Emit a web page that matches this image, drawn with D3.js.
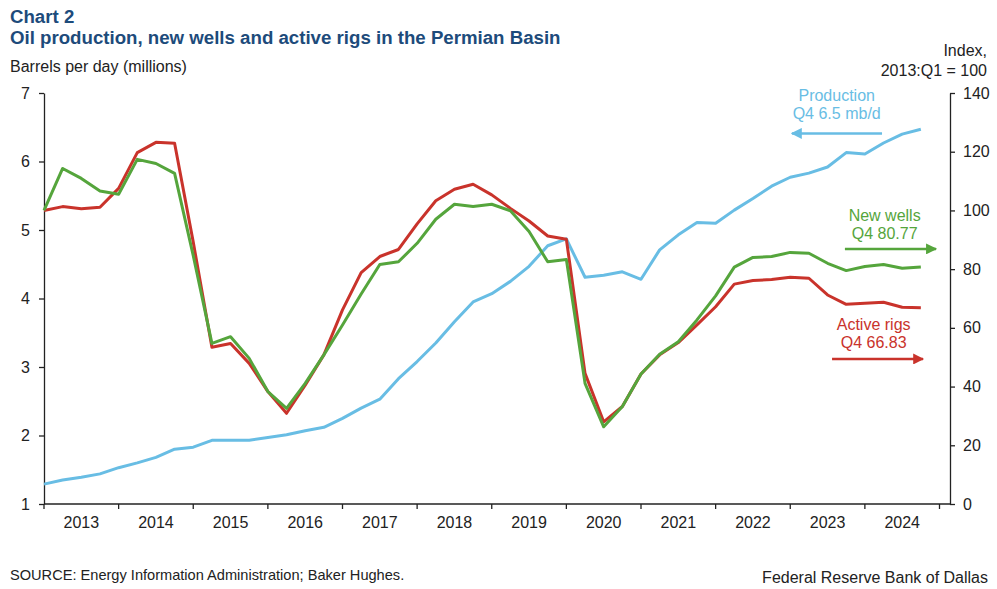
<!DOCTYPE html>
<html>
<head>
<meta charset="utf-8">
<script src="https://cdn.jsdelivr.net/npm/d3@7"></script>
<style>
  html, body { margin: 0; padding: 0; background: #fff; }
  svg { display: block; font-family: "Liberation Sans", Arial, sans-serif; }
</style>
</head>
<body>
<svg id="chart" width="997" height="589"></svg>
<script>
// ---------- DATA ----------
const years = [2013, 2014, 2015, 2016, 2017, 2018, 2019, 2020, 2021, 2022, 2023, 2024];
const quartersPerYear = ["Q1", "Q2", "Q3", "Q4"];
// Oil production, millions of barrels per day (left axis)
const production = [1.29,1.35,1.39,1.44,1.53,1.60,1.68,1.80,1.83,1.93,1.93,1.93,1.97,2.01,2.07,2.12,
  2.25,2.40,2.53,2.83,3.08,3.35,3.66,3.95,4.07,4.25,4.47,4.77,4.87,4.31,4.34,4.39,
  4.28,4.71,4.93,5.11,5.10,5.29,5.46,5.64,5.77,5.83,5.92,6.13,6.11,6.27,6.40,6.47];
// New wells, index 2013:Q1 = 100 (right axis)
const newWells = [100,114.3,110.9,106.6,105.5,117.4,116.0,112.6,84.6,54.7,57.0,49.6,38.3,32.6,41.1,50.8,
  61.0,71.5,81.6,82.5,88.8,97.0,102.1,101.3,102.1,99.9,92.8,82.5,83.3,41.1,26.3,33.2,
  44.3,51.0,55.3,62.7,70.9,80.7,84.0,84.3,85.7,85.4,82.0,79.5,80.9,81.6,80.3,80.77];
// Active rigs, index 2013:Q1 = 100 (right axis)
const activeRigs = [100,101.3,100.6,101.1,107.5,119.7,123.2,122.9,89.2,53.4,54.7,47.9,38.3,30.9,40.5,50.8,
  66.1,78.8,84.3,86.7,95.4,103.3,107.2,108.9,105.3,100.7,96.4,91.3,90.2,44.5,28.0,33.2,
  44.3,50.8,55.0,61.0,67.2,74.9,76.1,76.5,77.2,76.9,71.2,68.0,68.4,68.7,67.0,66.83];
const leftTicks = [1, 2, 3, 4, 5, 6, 7];
const rightTicks = [0, 20, 40, 60, 80, 100, 120, 140];

const quarters = years.flatMap(y => quartersPerYear.map(q => y + ":" + q));

// ---------- LAYOUT ----------
const svg = d3.select("#chart");
const plot = { left: 44, right: 950, top: 93, bottom: 504 };
const colors = { prod: "#68bde4", wells: "#55a53c", rigs: "#c9332b", title: "#1d4b7b", text: "#222" };

const x = d3.scaleLinear().domain([0, quarters.length]).range([plot.left, 939.5]);
const yL = d3.scaleLinear().domain([1, 7]).range([plot.bottom, plot.top]);
const yR = d3.scaleLinear().domain([0, 140]).range([plot.bottom, plot.top]);

// ---------- TITLES ----------
svg.append("text").attr("x", 10).attr("y", 23).attr("fill", colors.title)
  .attr("font-size", 18.67).attr("font-weight", "bold").text("Chart 2");
svg.append("text").attr("x", 10).attr("y", 44).attr("fill", colors.title)
  .attr("font-size", 18.67).attr("font-weight", "bold")
  .text("Oil production, new wells and active rigs in the Permian Basin");
svg.append("text").attr("x", 10).attr("y", 72).attr("fill", colors.text)
  .attr("font-size", 16).text("Barrels per day (millions)");
svg.append("text").attr("x", 987).attr("y", 56).attr("fill", colors.text)
  .attr("font-size", 16).attr("text-anchor", "end").text("Index,");
svg.append("text").attr("x", 987).attr("y", 76).attr("fill", colors.text)
  .attr("font-size", 16).attr("text-anchor", "end").text("2013:Q1 = 100");

// ---------- AXES ----------
const styleAxis = g => {
  g.selectAll(".domain").attr("stroke", colors.text).attr("stroke-width", 1.3);
  g.selectAll(".tick line").attr("stroke", colors.text).attr("stroke-width", 1.3);
  g.selectAll(".tick text").attr("fill", colors.text).attr("font-size", 16)
    .attr("font-family", '"Liberation Sans", Arial, sans-serif');
};

svg.append("g").attr("transform", `translate(${plot.left},0)`)
  .call(d3.axisLeft(yL).tickValues(leftTicks).tickSize(5).tickPadding(9).tickSizeOuter(0).tickFormat(d3.format("d")))
  .call(styleAxis);

svg.append("g").attr("transform", `translate(${plot.right},0)`)
  .call(d3.axisRight(yR).tickValues(rightTicks).tickSize(5).tickPadding(8).tickSizeOuter(0).tickFormat(d3.format("d")))
  .call(styleAxis);

// x axis: ticks at year boundaries, labels centered in each year
const xAxisG = svg.append("g").attr("transform", `translate(0,${plot.bottom})`);
xAxisG.append("line").attr("x1", plot.left).attr("x2", plot.right)
  .attr("stroke", colors.text).attr("stroke-width", 1.3);
const boundaries = d3.range(years.length + 1).map(i => i * 4);
xAxisG.selectAll("line.tk").data(boundaries).join("line").attr("class", "tk")
  .attr("x1", d => x(d)).attr("x2", d => x(d)).attr("y1", 0).attr("y2", 5)
  .attr("stroke", colors.text).attr("stroke-width", 1.3);
xAxisG.selectAll("text").data(years).join("text")
  .attr("x", (d, i) => x(i * 4 + 2)).attr("y", 24)
  .attr("text-anchor", "middle").attr("font-size", 16).attr("fill", colors.text)
  .text(d => d);

// ---------- LINES ----------
const lineL = d3.line().x((d, i) => x(i)).y(d => yL(d));
const lineR = d3.line().x((d, i) => x(i)).y(d => yR(d));

svg.append("path").datum(production).attr("d", lineL)
  .attr("fill", "none").attr("stroke", colors.prod).attr("stroke-width", 3).attr("stroke-linejoin", "round");
svg.append("path").datum(activeRigs).attr("d", lineR)
  .attr("fill", "none").attr("stroke", colors.rigs).attr("stroke-width", 3).attr("stroke-linejoin", "round");
svg.append("path").datum(newWells).attr("d", lineR)
  .attr("fill", "none").attr("stroke", colors.wells).attr("stroke-width", 3).attr("stroke-linejoin", "round");

// ---------- ANNOTATIONS ----------
const defs = svg.append("defs");
function marker(id, color) {
  defs.append("marker").attr("id", id).attr("viewBox", "0 0 10 10")
    .attr("refX", 9).attr("refY", 5).attr("markerWidth", 4.4).attr("markerHeight", 4.4)
    .attr("markerUnits", "strokeWidth").attr("orient", "auto")
    .append("path").attr("d", "M0,0 L10,5 L0,10 Z").attr("fill", color);
}
marker("mProd", colors.prod);
marker("mWells", colors.wells);
marker("mRigs", colors.rigs);

function label(cx, lines, yScale, baselines, color) {
  lines.forEach((t, k) => {
    svg.append("text").attr("x", x(cx)).attr("y", yScale(baselines[k]))
      .attr("text-anchor", "middle").attr("font-size", 16).attr("fill", color).text(t);
  });
}
function arrow(x1, x2, yScale, yv, color, id) {
  svg.append("line").attr("x1", x(x1)).attr("x2", x(x2))
    .attr("y1", yScale(yv)).attr("y2", yScale(yv))
    .attr("stroke", color).attr("stroke-width", 2.5).attr("marker-end", `url(#${id})`);
}

label(42.49, ["Production", "Q4 6.5 mb/d"], yL, [6.88, 6.62], colors.prod);
arrow(44.92, 40.09, yL, 6.41, colors.prod, "mProd");

label(45.06, ["New wells", "Q4 80.77"], yR, [96.4, 90.3], colors.wells);
arrow(42.93, 47.81, yR, 86.9, colors.wells, "mWells");

label(44.47, ["Active rigs", "Q4 66.83"], yR, [59.3, 53.1], colors.rigs);
arrow(42.24, 47.12, yR, 49.4, colors.rigs, "mRigs");

// ---------- FOOTER ----------
svg.append("text").attr("x", 10).attr("y", 580).attr("font-size", 14.6).attr("fill", colors.text)
  .text("SOURCE: Energy Information Administration; Baker Hughes.");
svg.append("text").attr("x", 988).attr("y", 583).attr("font-size", 16).attr("fill", colors.text)
  .attr("text-anchor", "end").text("Federal Reserve Bank of Dallas");
</script>
</body>
</html>
